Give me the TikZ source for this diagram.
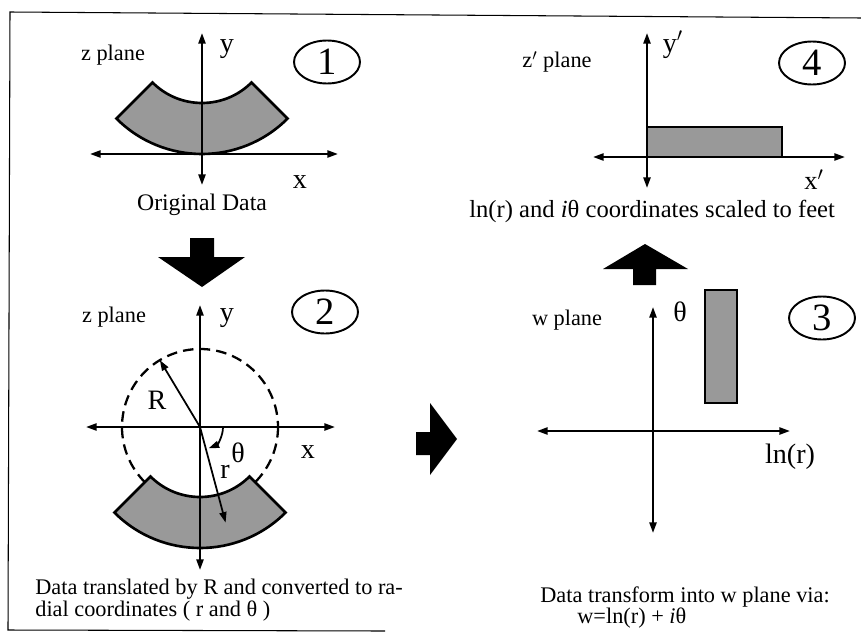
\documentclass[tikz,border=0pt]{standalone}
\usepackage{fontspec}
\setmainfont{Liberation Serif}
\usetikzlibrary{shapes.geometric, arrows.meta, positioning, calc}

\tikzstyle{axis} = [line width=1.2pt,
{Triangle[length=6pt,width=4pt]}-{Triangle[length=6pt,width=4pt]}]
\tikzstyle{vec} = [line width=1pt,
-{Triangle[length=6pt,width=4pt]}]
\tikzstyle{data} = [draw=black,
line width=1.5pt,
fill=black!40]
\tikzstyle{stepno} = [ellipse,
draw=black,
line width=1.1pt,
minimum width=1.32cm,
minimum height=0.86cm,
inner sep=0pt,
font=\fontsize{22}{22}\selectfont]
\tikzstyle{lbl} = [inner sep=0pt,
font=\fontsize{12.7}{14}\selectfont]
\tikzstyle{axlbl} = [inner sep=0pt,
font=\fontsize{16}{16}\selectfont]
\tikzstyle{caption} = [inner sep=0pt,
anchor=base west,
font=\fontsize{12.7}{14}\selectfont]
\tikzstyle{bigarrow} = [fill=black]

\begin{document}
\begin{tikzpicture}[x=0.02cm, y=-0.02cm]
    \useasboundingbox (0,0) rectangle (861,635);

    % frame
    \draw[line width=0.6pt] (861,18) -- (10,12) -- (8,630) -- (385,631);

    % panel 1: original data
    \coordinate (o1) at (202,154);
    \coordinate (c1) at (202,33);
    \draw[data] ($(c1)+(135:121)$) arc[start angle=135, end angle=45, radius=121]
        -- ($(c1)+(45:70)$) arc[start angle=45, end angle=135, radius=70] -- cycle;
    \draw[axis] ($(o1)+(-112,0)$) -- ($(o1)+(136,0)$);
    \draw[axis] ($(o1)+(0,31)$) -- ($(o1)+(0,-121)$);
    \node (zp1) [lbl] at (113,55) {z plane};
    \node (y1) [axlbl] at (227,49) {y};
    \node (x1) [axlbl] at (300,182) {x};
    \node (n1) [stepno] at (327,62) {1};
    \node (orig) [lbl, font=\fontsize{13.5}{14}\selectfont] at (202,205) {Original Data};

    % big arrows
    \fill[bigarrow] (190,238) -- (214,238) -- (214,257) -- (245,257) -- (202,287)
        -- (158,257) -- (190,257) -- cycle;
    \fill[bigarrow] (416,432) -- (430,432) -- (430,403) -- (457,439) -- (430,475)
        -- (430,455) -- (416,455) -- cycle;
    \fill[bigarrow] (633,285) -- (633,269) -- (603,269) -- (645,244) -- (688,269)
        -- (656,269) -- (656,285) -- cycle;

    % panel 2: translated, radial coordinates
    \coordinate (o2) at (200,427);
    \draw[line width=1.3pt, dash pattern=on 6pt off 3.5pt] (o2) circle[radius=78];
    \draw[data] ($(o2)+(135:121)$) arc[start angle=135, end angle=45, radius=121]
        -- ($(o2)+(45:70)$) arc[start angle=45, end angle=135, radius=70] -- cycle;
    \draw[axis] ($(o2)+(-114,0)$) -- ($(o2)+(135,0)$);
    \draw[axis] ($(o2)+(0,143)$) -- ($(o2)+(0,-122)$);
    \draw[vec] (o2) -- ++(-121:78);
    \draw[vec] (o2) -- ++(75:99);
    \draw[vec] ($(o2)+(0:23)$) arc[start angle=0, end angle=68, radius=23];
    \node (bigr) [axlbl] at (157,400) {R};
    \node (smallr) [axlbl] at (225,472) {r};
    \node (th2) [axlbl] at (238,453) {θ};
    \node (x2) [axlbl] at (308,452) {x};
    \node (y2) [axlbl] at (227,318) {y};
    \node (zp2) [lbl] at (114,317) {z plane};
    \node (n2) [stepno] at (325,312) {2};
    \node (cap2a) [caption] at (35,594) {Data translated by R and converted to ra-};
    \node (cap2b) [caption] at (35,616) {dial coordinates ( r and θ )};

    % panel 3: w plane
    \coordinate (o3) at (653,431);
    \draw[data] (705,290) rectangle (737,403);
    \draw[axis] ($(o3)+(-116,0)$) -- ($(o3)+(137,0)$);
    \draw[axis] ($(o3)+(0,102)$) -- ($(o3)+(0,-124)$);
    \node (th3) [axlbl] at (680,312) {θ};
    \node (wp) [lbl] at (567,320) {w plane};
    \node (lnr) [axlbl] at (790,457) {ln(r)};
    \node (n3) [stepno] at (822,318) {3};
    \node (cap3a) [caption] at (540,602) {Data transform into w plane via:};
    \node (cap3b) [caption] at (577,623) {w=ln(r) + \textit{i}θ};

    % panel 4: scaled to feet
    \coordinate (o4) at (647,157);
    \draw[data] (647,127) rectangle (782,157);
    \draw[axis] ($(o4)+(-54,0)$) -- ($(o4)+(198,0)$);
    \draw[axis] ($(o4)+(0,31)$) -- ($(o4)+(0,-124)$);
    \node (zp4) [lbl] at (557,62) {z$'$ plane};
    \node (y4) [axlbl] at (673,45) {y$'$};
    \node (x4) [axlbl, font=\fontsize{15}{15}\selectfont] at (814,180) {x$'$};
    \node (n4) [stepno] at (812,63) {4};
    \node (cap4) [caption, font=\fontsize{14}{14}\selectfont] at (469,217)
        {ln(r) and \textit{i}θ coordinates scaled to feet};
\end{tikzpicture}
\end{document}
